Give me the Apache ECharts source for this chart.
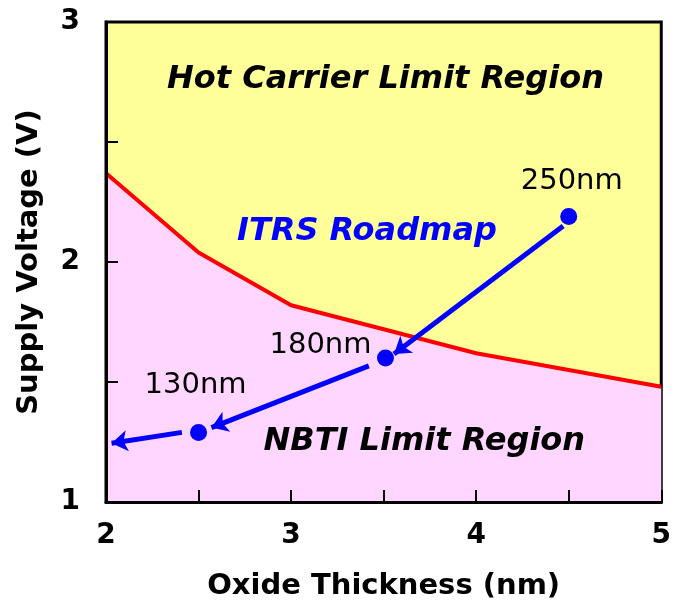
<!DOCTYPE html>
<html>
<head>
<meta charset="utf-8">
<script src="https://cdn.jsdelivr.net/npm/echarts@6/dist/echarts.min.js"></script>
<style>html,body{margin:0;padding:0;background:#fff}#c{width:674px;height:608px}</style>
</head>
<body>
<div id="c"></div>
<script>
// ---- data ----
const xTickLabels = [2, 3, 4, 5];
const yTickLabels = [1, 2, 3];
const boundaryX = [2, 2.5, 3, 4, 5];
const boundaryY = [2.37, 2.04, 1.82, 1.62, 1.48];
const nodeNames = ['250nm', '180nm', '130nm'];
const nodeX = [4.5, 3.51, 2.5];
const nodeY = [2.19, 1.6, 1.29];
const arrowFromX = [4.47, 3.42, 2.41];
const arrowFromY = [2.15, 1.567, 1.29];
const arrowToX = [3.556, 2.57, 2.03];
const arrowToY = [1.617, 1.31, 1.245];
const regionNames = ['Hot Carrier Limit Region', 'ITRS Roadmap', 'NBTI Limit Region'];
const regionX = [3.51, 3.41, 3.72];
const regionY = [2.76, 2.125, 1.25];

// ---- styles (not data) ----
const FONT = 'DejaVu Sans';
const nodeLabelOffsets = [[3, -35], [-65, -13], [-3, -47]];
const regionColors = ['#000000', '#0000FF', '#000000'];

const chart = echarts.init(document.getElementById('c'), null, {renderer: 'canvas'});
const option = {
  animation: false,
  backgroundColor: '#ffffff',
  grid: {
    left: 106, right: 9, top: 22, bottom: 106,
    show: true, backgroundColor: '#FFFF99', borderColor: '#000', borderWidth: 3
  },
  xAxis: {
    type: 'value', min: 2, max: 5, interval: 0.5, z: 10,
    name: 'Oxide Thickness (nm)', nameLocation: 'middle', nameGap: 70,
    nameTextStyle: {fontFamily: FONT, fontWeight: 'bold', fontSize: 29, color: '#000'},
    axisLine: {show: true, onZero: false, lineStyle: {color: '#000', width: 3}},
    axisTick: {show: true, inside: true, length: 12, lineStyle: {color: '#000', width: 2}},
    axisLabel: {
      show: true, margin: 20, showMinLabel: true, showMaxLabel: true,
      fontFamily: FONT, fontWeight: 'bold', fontSize: 28, color: '#000',
      formatter: v => xTickLabels.includes(v) ? String(v) : ''
    },
    splitLine: {show: false}
  },
  yAxis: {
    type: 'value', min: 1, max: 3, interval: 0.5, z: 10,
    name: 'Supply Voltage (V)', nameLocation: 'middle', nameGap: 62,
    nameTextStyle: {fontFamily: FONT, fontWeight: 'bold', fontSize: 29, color: '#000'},
    axisLine: {show: true, onZero: false, lineStyle: {color: '#000', width: 3}},
    axisTick: {show: true, inside: true, length: 12, lineStyle: {color: '#000', width: 2}},
    axisLabel: {
      show: true, margin: 26, showMinLabel: true, showMaxLabel: true,
      fontFamily: FONT, fontWeight: 'bold', fontSize: 28, color: '#000',
      formatter: v => yTickLabels.includes(v) ? String(v) : ''
    },
    splitLine: {show: false}
  },
  series: [
    {
      type: 'line', name: 'boundary',
      data: boundaryX.map((x, i) => [x, boundaryY[i]]),
      symbol: 'none', z: 2,
      lineStyle: {color: '#FF0000', width: 4},
      areaStyle: {color: '#FFD6FF', opacity: 1, origin: 'start'}
    },
    {
      type: 'lines', coordinateSystem: 'cartesian2d', z: 4,
      data: arrowFromX.map((x, i) => ({coords: [[x, arrowFromY[i]], [arrowToX[i], arrowToY[i]]]})),
      symbol: ['none', 'arrow'], symbolSize: 16,
      lineStyle: {color: '#0000FF', width: 5, opacity: 1}
    },
    {
      type: 'scatter', name: 'nodes', z: 5,
      data: nodeX.map((x, i) => ({
        value: [x, nodeY[i]], name: nodeNames[i],
        label: {offset: nodeLabelOffsets[i]}
      })),
      symbol: 'circle', symbolSize: 17,
      itemStyle: {color: '#0000FF', opacity: 1},
      label: {
        show: true, position: 'inside', formatter: p => p.name,
        fontFamily: FONT, fontSize: 29, color: '#000',
        textBorderWidth: 0, textBorderColor: 'transparent'
      }
    },
    {
      type: 'scatter', name: 'regions', z: 6, silent: true,
      data: regionX.map((x, i) => ({
        value: [x, regionY[i]], name: regionNames[i],
        label: {color: regionColors[i]}
      })),
      symbolSize: 0,
      itemStyle: {opacity: 1, color: 'transparent'},
      label: {
        show: true, position: 'inside', formatter: p => p.name,
        fontFamily: FONT, fontSize: 32, fontWeight: 'bold', fontStyle: 'italic',
        textBorderWidth: 0, textBorderColor: 'transparent'
      }
    }
  ]
};
chart.setOption(option);
</script>
</body>
</html>
